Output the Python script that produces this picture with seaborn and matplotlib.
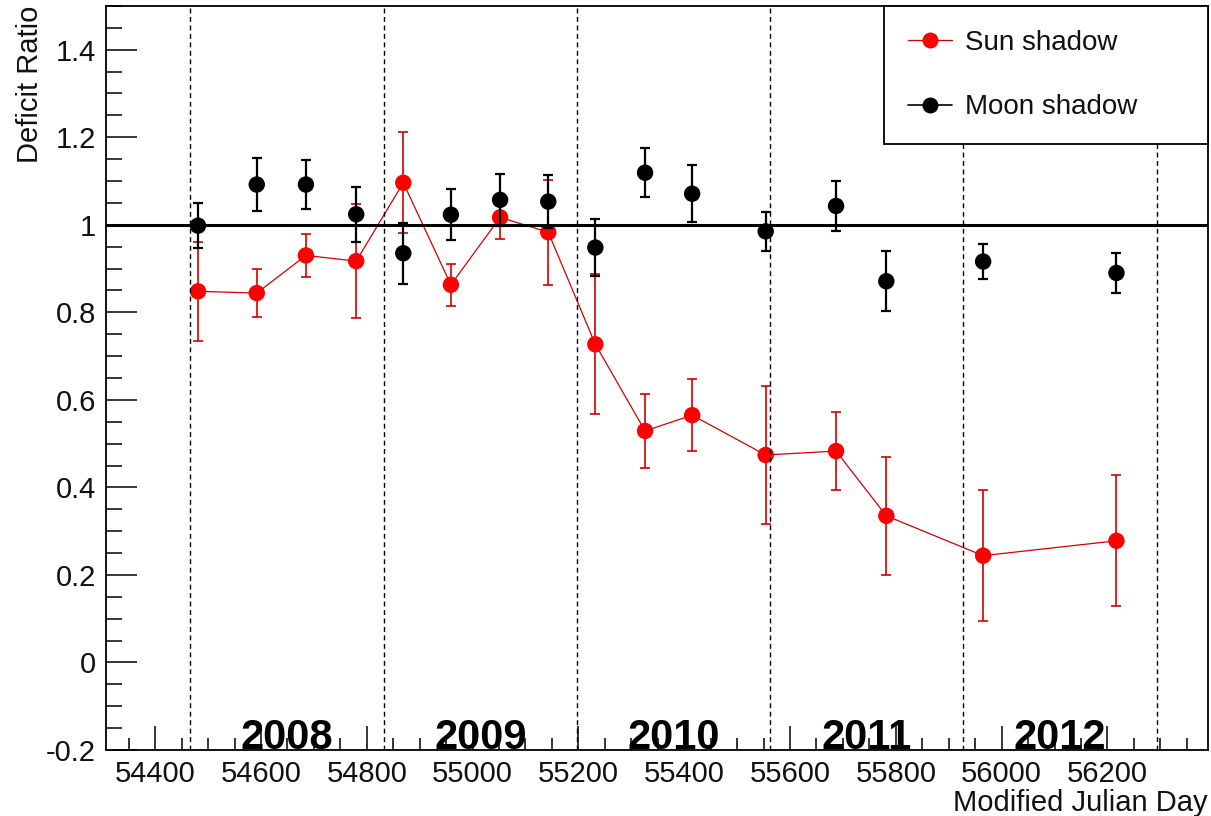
import numpy as np
import matplotlib
matplotlib.use("Agg")
import matplotlib.pyplot as plt
from matplotlib.lines import Line2D
from matplotlib.ticker import MultipleLocator, FuncFormatter
import seaborn as sns

# Shadow deficit measurements (Modified Julian Day, ratio, 1-sigma error)
mjd = [54481, 54592, 54685, 54780, 54869, 54959, 55052, 55143,
       55232, 55326, 55415, 55554, 55687, 55782, 55965, 56217]

sun_ratio = [0.848, 0.844, 0.930, 0.917, 1.096, 0.863, 1.017, 0.983,
             0.727, 0.529, 0.565, 0.474, 0.483, 0.335, 0.244, 0.278]
sun_err = [0.113, 0.054, 0.050, 0.130, 0.115, 0.048, 0.050, 0.120,
           0.160, 0.084, 0.082, 0.157, 0.090, 0.135, 0.150, 0.150]

moon_ratio = [0.998, 1.092, 1.092, 1.024, 0.935, 1.023, 1.057, 1.053,
              0.948, 1.119, 1.071, 0.985, 1.043, 0.871, 0.916, 0.890]
moon_err = [0.052, 0.061, 0.056, 0.063, 0.070, 0.058, 0.060, 0.060,
            0.066, 0.056, 0.065, 0.044, 0.058, 0.068, 0.040, 0.045]

# Calendar year boundaries (MJD of 1 January) and labels
year_edges = [54466, 54832, 55197, 55562, 55927, 56293]
year_labels = ["2008", "2009", "2010", "2011", "2012"]

sns.set_theme(style="white")
plt.rcParams["font.family"] = ["Liberation Sans", "DejaVu Sans"]
plt.rcParams["axes.unicode_minus"] = False

RED = "#ff0000"
LINE_RED = "#d40000"

fig = plt.figure(figsize=(12.11, 8.16), dpi=100)
ax = fig.add_axes([0.0875, 0.0809, 0.910, 0.9118])

# Sun shadow: connected points with error bars
ax.errorbar(mjd, sun_ratio, yerr=sun_err, fmt="none", ecolor=LINE_RED,
            elinewidth=1.2, capsize=3.3, capthick=1.2, zorder=2)
sns.lineplot(x=mjd, y=sun_ratio, ax=ax, color=LINE_RED, linewidth=0.9,
             sort=False, zorder=3, legend=False)
sns.scatterplot(x=mjd, y=sun_ratio, ax=ax, color=RED, s=140,
                edgecolor="none", zorder=4, legend=False)

# Moon shadow: points with error bars
ax.errorbar(mjd, moon_ratio, yerr=moon_err, fmt="none", ecolor="black",
            elinewidth=1.6, capsize=3.3, capthick=1.6, zorder=5)
sns.scatterplot(x=mjd, y=moon_ratio, ax=ax, color="black", s=140,
                edgecolor="none", zorder=6, legend=False)

# Reference level and year separators
ax.axhline(1.0, color="black", linewidth=2.2, zorder=7)
for edge in year_edges:
    ax.axvline(edge, color="black", linewidth=1.0,
               linestyle=(0, (3.5, 2.6)), zorder=7)
for i, label in enumerate(year_labels):
    xc = 0.5 * (year_edges[i] + year_edges[i + 1])
    ax.text(xc, -0.197, label, ha="center", va="baseline",
            fontsize=30, fontweight="bold", color="black", zorder=8)

ax.set_xlim(54307, 56390)
ax.set_ylim(-0.2, 1.5)

ax.xaxis.set_major_locator(MultipleLocator(200))
ax.xaxis.set_minor_locator(MultipleLocator(50))
ax.yaxis.set_major_locator(MultipleLocator(0.2))
ax.yaxis.set_minor_locator(MultipleLocator(0.05))
ax.yaxis.set_major_formatter(FuncFormatter(lambda v, p: f"{v:g}" if abs(v) > 1e-9 else "0"))
ax.xaxis.set_major_formatter(FuncFormatter(lambda v, p: f"{v:.0f}"))

ax.tick_params(axis="both", which="both", direction="in", color="black",
               width=1.1, labelsize=21, labelcolor="#111111",
               top=False, right=False, bottom=True, left=True)
ax.tick_params(axis="y", which="major", length=22.5, pad=7)
ax.tick_params(axis="y", which="minor", length=11.5)
ax.tick_params(axis="x", which="major", length=17.5, pad=7)
ax.tick_params(axis="x", which="minor", length=8.7)

for side in ["left", "right", "top", "bottom"]:
    ax.spines[side].set_visible(True)
    ax.spines[side].set_color("black")
    ax.spines[side].set_linewidth(1.3)

ax.set_ylabel("Deficit Ratio", fontsize=21, color="#111111", loc="top")
ax.yaxis.set_label_coords(-0.056, 1.0)
ax.set_xlabel("Modified Julian Day", fontsize=21, color="#111111", loc="right")
ax.xaxis.set_label_coords(1.0, -0.053)

handles = [
    Line2D([0], [0], color=LINE_RED, linewidth=0.9, marker="o",
           markersize=11.5, markerfacecolor=RED, markeredgewidth=0),
    Line2D([0], [0], color="black", linewidth=1.2, marker="o",
           markersize=11.5, markerfacecolor="black", markeredgewidth=0),
]
leg = ax.legend(handles, ["Sun shadow", "Moon shadow"],
                loc="upper left", bbox_to_anchor=(0.706, 0.0, 0.294, 1.0),
                mode="expand", borderaxespad=0, fontsize=20,
                frameon=True, fancybox=False, framealpha=1,
                edgecolor="black", borderpad=0.85, labelspacing=1.4,
                handlelength=1.6, handletextpad=0.47)
leg.get_frame().set_linewidth(1.3)
for t in leg.get_texts():
    t.set_color("#111111")
leg.set_zorder(10)

fig.savefig("out.png", dpi=100, facecolor="white")
